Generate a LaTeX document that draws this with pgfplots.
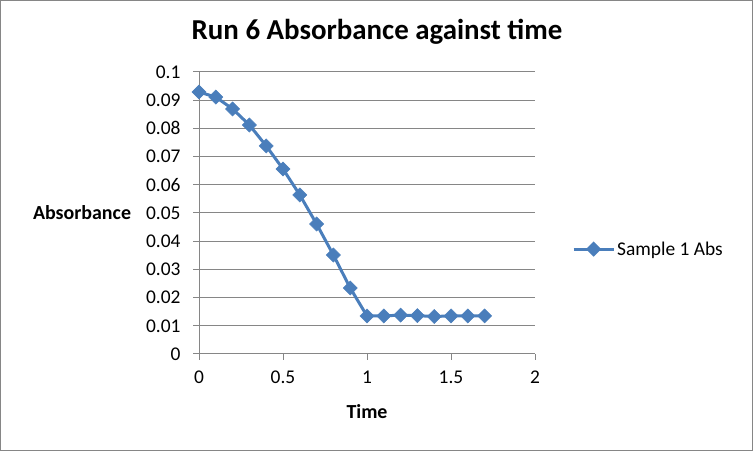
\documentclass[border=0pt]{standalone}
\usepackage{pgfplots}
\pgfplotsset{compat=1.18}
\usepackage{fontspec}
\setmainfont{Carlito}
\definecolor{xlblue}{HTML}{4A7EBB}
\definecolor{xlgrid}{HTML}{868686}
\begin{document}
\begin{tikzpicture}
\useasboundingbox (0,0) rectangle (753bp,451bp);
\draw[xlgrid, line width=1bp] (0.5bp,0.5bp) rectangle (752.5bp,450.5bp);
\begin{axis}[
  at={(199bp,97bp)}, anchor=south west,
  scale only axis, width=336bp, height=282bp,
  xmin=0, xmax=2, ymin=0, ymax=0.1,
  axis x line=bottom, axis y line=left,
  axis line style={-, xlgrid, line width=1bp},
  xtick={0,0.5,1,1.5,2},
  ytick={0,0.01,...,0.1},
  yticklabels={0,0.01,0.02,0.03,0.04,0.05,0.06,0.07,0.08,0.09,0.1},
  xticklabels={0,0.5,1,1.5,2},
  tick align=outside, major tick length=6bp,
  tick style={xlgrid, line width=1bp},
  ymajorgrids, grid style={xlgrid, line width=1bp},
  ticklabel style={font=\fontsize{19.5}{22}\selectfont, text=black},
  yticklabel style={xshift=-9bp},
  xticklabel style={yshift=-7bp},
  clip=false,
  legend style={at={(1.11,0.372)}, anchor=west, draw=none, fill=none,
    font=\fontsize{19.5}{22}\selectfont, inner sep=0pt},
  legend cell align=left,
  legend image code/.code={
    \draw[xlblue, line width=3bp] (0bp,0bp) -- (40bp,0bp);
    \draw[xlblue, fill=xlblue] (20bp,0bp) +(0,5.5bp) -- +(5.5bp,0) -- +(0,-5.5bp) -- +(-5.5bp,0) -- cycle;
  },
]
\addplot[xlblue, line width=3bp, mark=square*, mark size=5bp,
  mark options={rotate=45, solid, fill=xlblue, draw=xlblue, line width=0.5bp}]
coordinates {
(0,0.0929) (0.1,0.0911) (0.2,0.0869) (0.3,0.0812) (0.4,0.0738)
(0.5,0.0656) (0.6,0.0564) (0.7,0.0461) (0.8,0.0351) (0.9,0.0234)
(1.0,0.0135) (1.1,0.0135) (1.2,0.0138) (1.3,0.0136) (1.4,0.0133)
(1.5,0.0135) (1.6,0.0135) (1.7,0.0135)
};
\addlegendentry{Sample 1 Abs}
\end{axis}
\node[font=\bfseries\fontsize{29}{33}\selectfont] at (377bp,419bp) {Run 6 Absorbance against time};
\node[font=\bfseries\fontsize{20}{24}\selectfont] at (82bp,238bp) {Absorbance};
\node[font=\bfseries\fontsize{20}{24}\selectfont] at (367bp,39bp) {Time};
\end{tikzpicture}
\end{document}
